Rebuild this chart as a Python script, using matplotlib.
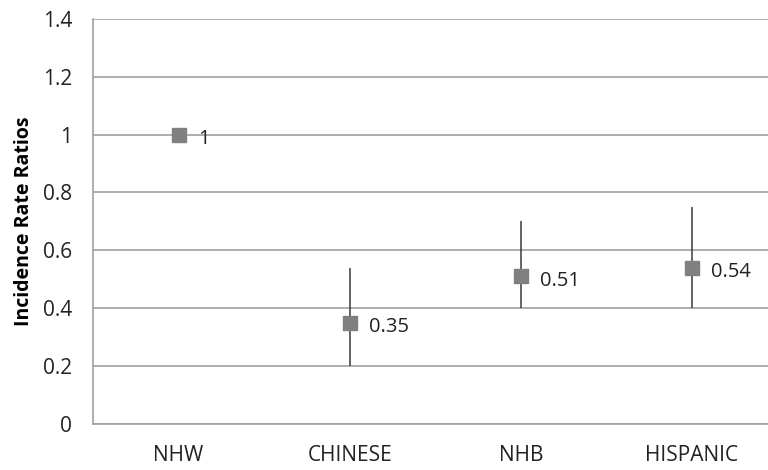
import matplotlib.pyplot as plt
import numpy as np

plt.rcParams['font.family'] = ['Open Sans', 'DejaVu Sans']

# data
groups = ['NHW', 'CHINESE', 'NHB', 'HISPANIC']
irr = [1.0, 0.35, 0.51, 0.54]
lower = [1.0, 0.20, 0.40, 0.40]
upper = [1.0, 0.54, 0.70, 0.75]
point_labels = ['1', '0.35', '0.51', '0.54']

fig = plt.figure(figsize=(7.68, 4.70), dpi=100)
ax = fig.add_axes([0.121, 0.098, 0.879, 0.862])

x = np.arange(len(groups))
for i in range(len(groups)):
    if upper[i] > lower[i]:
        ax.vlines(x[i], lower[i], upper[i], color='#3a3a3a', linewidth=1.1, zorder=3)
ax.scatter(x, irr, marker='s', s=110, color='#808080', zorder=4)
for i in range(len(groups)):
    ax.annotate(point_labels[i], (x[i], irr[i]), xytext=(14, -3), textcoords='offset points',
                ha='left', va='center', fontsize=14.5, color='#222222')

ax.set_xlim(-0.5, 3.444)
ax.set_ylim(0, 1.4)
ax.set_yticks(np.arange(0, 1.41, 0.2))
ax.set_yticklabels(['0', '0.2', '0.4', '0.6', '0.8', '1', '1.2', '1.4'])
ax.set_xticks(x)
ax.set_xticklabels(groups)
ax.grid(axis='y', color='#a0a0a0', linewidth=1.2)
ax.set_axisbelow(True)
for s in ['top', 'right']:
    ax.spines[s].set_visible(False)
ax.spines['left'].set_color('#a0a0a0')
ax.spines['left'].set_linewidth(1.2)
ax.spines['bottom'].set_color('#a0a0a0')
ax.spines['bottom'].set_linewidth(1.2)
ax.tick_params(axis='both', length=0, labelsize=15, colors='#222222')
ax.tick_params(axis='y', pad=15)
ax.tick_params(axis='x', pad=15)
ax.set_ylabel('Incidence Rate Ratios', fontsize=14, fontweight='bold', labelpad=6)

plt.savefig('out.png', dpi=100)
